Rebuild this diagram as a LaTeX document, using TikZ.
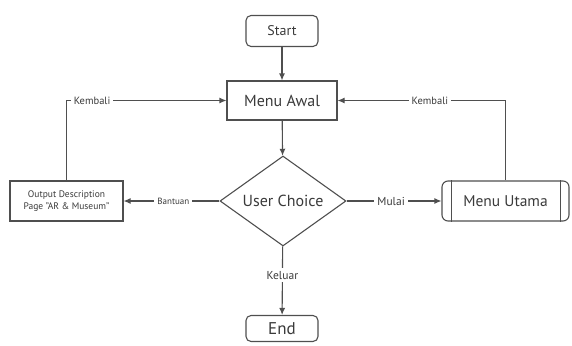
\documentclass[tikz,border=0pt]{standalone}
\usepackage{fontspec}
\setmainfont{PT Sans}
\usetikzlibrary{shapes.geometric,shapes.misc,arrows.meta}
\definecolor{ln}{HTML}{4F4F4F}
\definecolor{tx}{HTML}{3A3A3A}
\tikzset{
  every node/.style={text=tx},
  term/.style={draw=ln,line width=1.1pt,rounded corners=5pt,minimum width=72pt,minimum height=31pt,font=\fontsize{14}{15}\selectfont},
  proc/.style={draw=ln,line width=1.1pt,minimum width=110pt,minimum height=39pt,font=\fontsize{16}{17}\selectfont},
  dec/.style={draw=ln,line width=1.1pt,diamond,aspect=1.4,minimum width=126pt,minimum height=90pt,inner sep=0pt,font=\fontsize{16}{17}\selectfont},
  conn/.style={draw=ln,line width=1.1pt,-{Latex[length=7pt,width=6pt]}},
  plain/.style={draw=ln,line width=1.1pt},
  lbl/.style={fill=white,inner sep=3pt,font=\fontsize{10.5}{12}\selectfont},
}
\begin{document}
\begin{tikzpicture}[x=1pt,y=-1pt]
\useasboundingbox (0,0) rectangle (572,345);
\node[term] (start) at (282,31) {Start};
\node[proc] (awal) at (282,100.5) {Menu Awal};
\node[dec] (choice) at (283,201) {User Choice};
\node[term,minimum height=26pt,font=\fontsize{17}{18}\selectfont] (end) at (282,328.5) {End};
\node[draw=ln,line width=1.1pt,minimum width=113pt,minimum height=40pt,align=center,inner sep=1pt,font=\fontsize{9.5}{12}\selectfont] (out) at (66.5,201) {Output Description\\Page "AR \& Museum"};
\node[draw=ln,line width=1.1pt,rounded corners=6pt,minimum width=127pt,minimum height=40pt,font=\fontsize{15.5}{17}\selectfont] (utama) at (505.5,201) {Menu Utama};
\draw[plain] ([xshift=10pt]utama.north west) -- ([xshift=10pt]utama.south west);
\draw[plain] ([xshift=-9pt]utama.north east) -- ([xshift=-9pt]utama.south east);

\coordinate (lc) at (66.5,100.5);
\coordinate (rc) at (505.5,100.5);

\draw[conn] (start) -- (awal);
\draw[conn] (awal) -- (choice);
\draw[conn] (choice) -- node[lbl,pos=0.48,font=\fontsize{9}{10}\selectfont] {Bantuan} (out);
\draw[conn] (choice) -- node[lbl,pos=0.47,font=\fontsize{11.5}{12}\selectfont] {Mulai} (utama);
\draw[conn] (choice) -- node[lbl,pos=0.42,font=\fontsize{11.5}{12}\selectfont] {Keluar} (end);
\draw[conn] (out.north) -- (lc) -- node[lbl,pos=0.16] {Kembali} (awal.west);
\draw[conn] (utama.north) -- (rc) -- node[lbl,pos=0.45] {Kembali} (awal.east);
\end{tikzpicture}
\end{document}
